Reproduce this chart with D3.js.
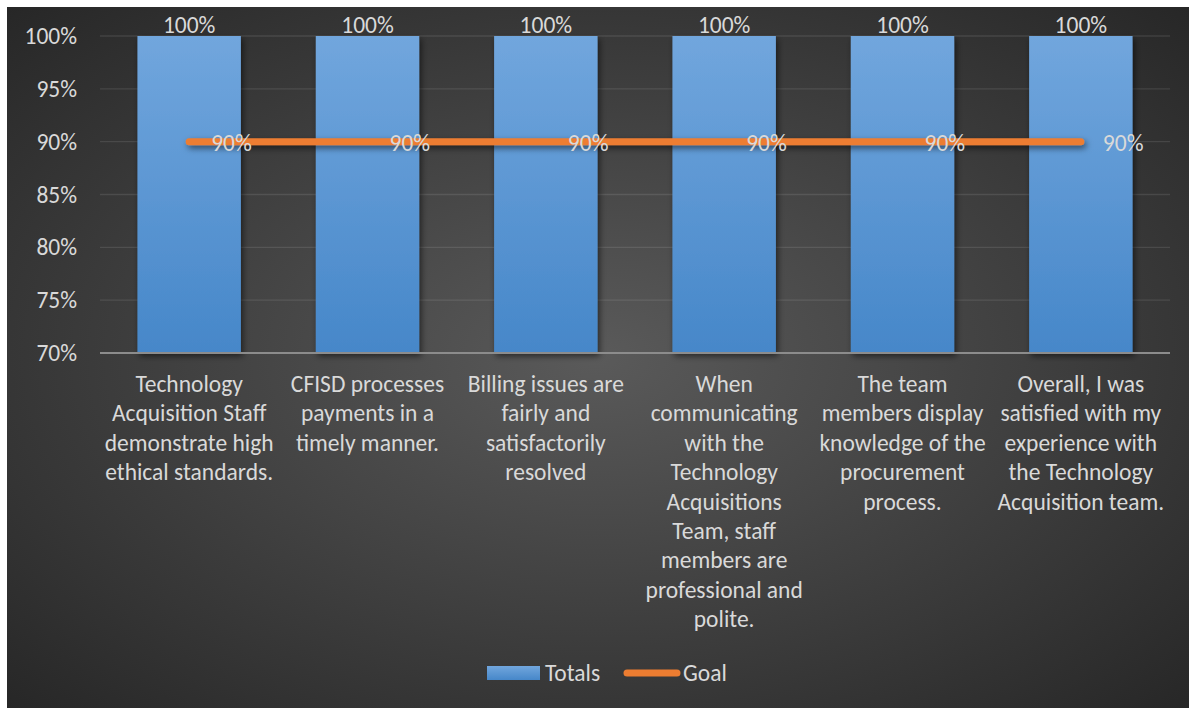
<!DOCTYPE html>
<html>
<head>
<meta charset="utf-8">
<script src="https://cdn.jsdelivr.net/npm/d3@7"></script>
<style>
  html, body { margin: 0; padding: 0; background: #fff; }
  #chart { width: 1191px; height: 708px; }
  text { font-family: Carlito, Calibri, Lato, sans-serif; fill: #d9d9d9; }
</style>
</head>
<body>
<div id="chart"></div>
<script>
// Category labels, already broken into lines as in the original
const categories = [
  ["Technology", "Acquisition Staff", "demonstrate high", "ethical standards."],
  ["CFISD processes", "payments in a", "timely manner."],
  ["Billing issues are", "fairly and", "satisfactorily", "resolved"],
  ["When", "communicating", "with the", "Technology", "Acquisitions", "Team, staff", "members are", "professional and", "polite."],
  ["The team", "members display", "knowledge of the", "procurement", "process."],
  ["Overall, I was", "satisfied with my", "experience with", "the Technology", "Acquisition team."]
];
const totals = [1.0, 1.0, 1.0, 1.0, 1.0, 1.0];
const goal = [0.9, 0.9, 0.9, 0.9, 0.9, 0.9];
const yTicks = [0.70, 0.75, 0.80, 0.85, 0.90, 0.95, 1.00];

const W = 1191, H = 708;
const margin = { top: 36, right: 21, bottom: 355, left: 100 };
const FS = 23.5;

const svg = d3.select("#chart").append("svg")
  .attr("width", W)
  .attr("height", H);

const defs = svg.append("defs");

// dark office-style radial background
const bg = defs.append("radialGradient")
  .attr("id", "bg")
  .attr("cx", "50%").attr("cy", "50%").attr("r", "72%");
bg.append("stop").attr("offset", "0%").attr("stop-color", "#5a5a5a");
bg.append("stop").attr("offset", "100%").attr("stop-color", "#262626");

const barGrad = defs.append("linearGradient")
  .attr("id", "barGrad")
  .attr("x1", 0).attr("y1", 0).attr("x2", 0).attr("y2", 1);
barGrad.append("stop").attr("offset", "0%").attr("stop-color", "#71a6dd");
barGrad.append("stop").attr("offset", "100%").attr("stop-color", "#4687c9");

// user space filter so the flat goal line keeps its shadow
const shadow = defs.append("filter")
  .attr("id", "shadow")
  .attr("filterUnits", "userSpaceOnUse")
  .attr("x", 0).attr("y", 0).attr("width", W).attr("height", H);
shadow.append("feDropShadow")
  .attr("dx", 2).attr("dy", 3)
  .attr("stdDeviation", 3)
  .attr("flood-color", "#000")
  .attr("flood-opacity", 0.55);

svg.append("rect")
  .attr("x", 7).attr("y", 7)
  .attr("width", W - 9).attr("height", H - 7)
  .attr("fill", "url(#bg)");

const x = d3.scaleBand()
  .domain(d3.range(categories.length))
  .range([margin.left, W - margin.right])
  .paddingInner(0.42)
  .paddingOuter(0.21);

const y = d3.scaleLinear()
  .domain([0.7, 1.0])
  .range([H - margin.bottom, margin.top]);

const fmt = d3.format(".0%");

// gridlines
svg.append("g")
  .selectAll("line")
  .data(yTicks.filter(t => t > 0.7))
  .join("line")
  .attr("x1", margin.left)
  .attr("x2", W - margin.right)
  .attr("y1", d => y(d))
  .attr("y2", d => y(d))
  .attr("stroke", "#ffffff")
  .attr("stroke-opacity", 0.1)
  .attr("stroke-width", 1.3);

// y axis labels
const yAxis = svg.append("g")
  .attr("transform", `translate(${margin.left - 23},0)`)
  .call(d3.axisLeft(y).tickValues(yTicks).tickFormat(fmt).tickSize(0).tickPadding(0));
yAxis.select(".domain").remove();
yAxis.selectAll("text")
  .attr("font-size", FS)
  .attr("fill", "#d9d9d9")
  .style("font-family", "Carlito, Calibri, Lato, sans-serif");

// bars
svg.append("g")
  .selectAll("rect")
  .data(totals)
  .join("rect")
  .attr("x", (d, i) => x(i))
  .attr("width", x.bandwidth())
  .attr("y", d => y(d))
  .attr("height", d => y(0.7) - y(d))
  .attr("fill", "url(#barGrad)")
  .attr("filter", "url(#shadow)");

// bottom axis line
svg.append("line")
  .attr("x1", margin.left)
  .attr("x2", W - margin.right)
  .attr("y1", y(0.7))
  .attr("y2", y(0.7))
  .attr("stroke", "#8c8c8c")
  .attr("stroke-width", 2);

// bar value labels
svg.append("g")
  .selectAll("text")
  .data(totals)
  .join("text")
  .attr("x", (d, i) => x(i) + x.bandwidth() / 2)
  .attr("y", d => y(d) - 3)
  .attr("text-anchor", "middle")
  .attr("font-size", FS)
  .text(d => fmt(d));

// goal line
const cx = i => x(i) + x.bandwidth() / 2;
const line = d3.line()
  .x((d, i) => cx(i))
  .y(d => y(d));

svg.append("path")
  .datum(goal)
  .attr("d", line)
  .attr("fill", "none")
  .attr("stroke", "#ed7d31")
  .attr("stroke-width", 7)
  .attr("stroke-linecap", "round")
  .attr("filter", "url(#shadow)");

svg.append("g")
  .selectAll("text")
  .data(goal)
  .join("text")
  .attr("x", (d, i) => cx(i) + 22)
  .attr("y", d => y(d) + 1)
  .attr("dy", "0.35em")
  .attr("font-size", FS)
  .text(d => fmt(d));

// category labels
const lineH = 29.4;
const cat = svg.append("g")
  .selectAll("text")
  .data(categories)
  .join("text")
  .attr("x", (d, i) => cx(i))
  .attr("y", y(0.7) + 39)
  .attr("text-anchor", "middle")
  .attr("font-size", FS);
cat.selectAll("tspan")
  .data(d => d)
  .join("tspan")
  .attr("x", function () { return d3.select(this.parentNode).attr("x"); })
  .attr("dy", (d, i) => i === 0 ? 0 : lineH)
  .text(d => d);

// legend
const lg = svg.append("g");
lg.append("rect")
  .attr("x", 487).attr("y", 666)
  .attr("width", 53).attr("height", 14)
  .attr("fill", "url(#barGrad)");
lg.append("text")
  .attr("x", 545).attr("y", 673)
  .attr("dy", "0.35em")
  .attr("font-size", FS)
  .text("Totals");
lg.append("line")
  .attr("x1", 627).attr("x2", 677)
  .attr("y1", 673).attr("y2", 673)
  .attr("stroke", "#ed7d31")
  .attr("stroke-width", 7)
  .attr("stroke-linecap", "round");
lg.append("text")
  .attr("x", 683).attr("y", 673)
  .attr("dy", "0.35em")
  .attr("font-size", FS)
  .text("Goal");
</script>
</body>
</html>
